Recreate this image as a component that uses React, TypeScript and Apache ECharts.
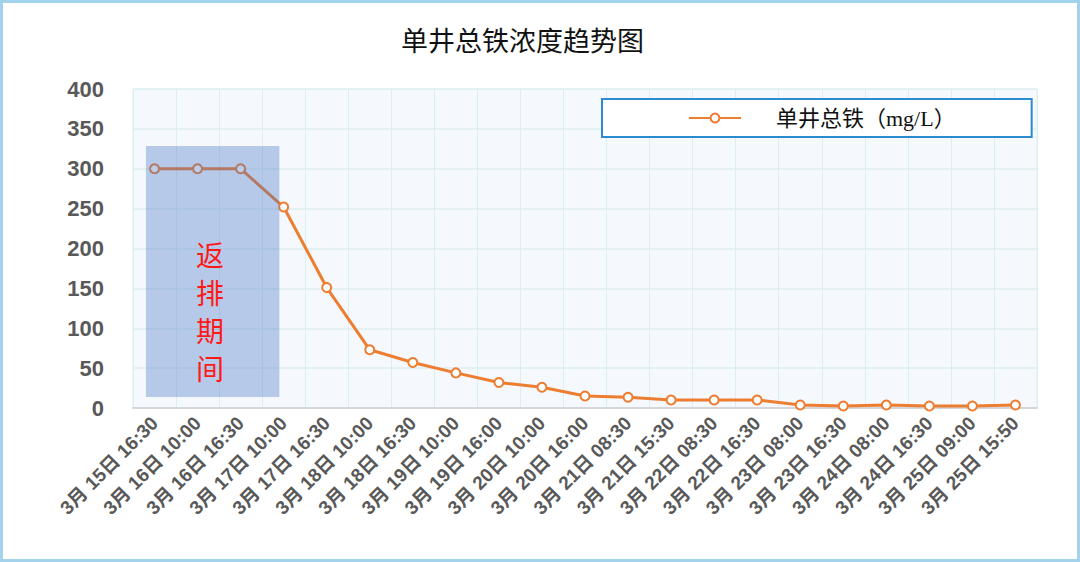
import React, { useEffect, useRef } from "react";
import * as echarts from "echarts";

const chartTitle = "单井总铁浓度趋势图";
const seriesName = "单井总铁（mg/L）";
const categories = [
  "3月 15日 16:30", "3月 16日 10:00", "3月 16日 16:30", "3月 17日 10:00",
  "3月 17日 16:30", "3月 18日 10:00", "3月 18日 16:30", "3月 19日 10:00",
  "3月 19日 16:00", "3月 20日 10:00", "3月 20日 16:00", "3月 21日 08:30",
  "3月 21日 15:30", "3月 22日 08:30", "3月 22日 16:30", "3月 23日 08:00",
  "3月 23日 16:30", "3月 24日 08:00", "3月 24日 16:30", "3月 25日 09:00",
  "3月 25日 15:50",
];
const values = [300, 300, 300, 252, 151, 73, 57, 44, 32, 26, 15, 13.5, 10, 10, 10, 3.8, 2.5, 3.8, 2.5, 2.5, 3.8];
const yMin = 0;
const yMax = 400;
const yStep = 50;
// annotation band (category-index units on x, data units on y)
const bandX = [-0.2, 2.9];
const bandY = [13.8, 328.5];
const bandLabel = "返\n排\n期\n间";
const bandLabelAt = [1.29, 122];

export default function App() {
  const ref = useRef<HTMLDivElement>(null);
  useEffect(() => {
    if (!ref.current) return;
    const chart = echarts.init(ref.current, undefined, { renderer: "svg" });
    const orange = "#ED7D31";
    chart.setOption({
      animation: false,
      backgroundColor: "#ffffff",
      title: {
        text: chartTitle,
        left: 396,
        top: 21,
        textStyle: {
          fontSize: 27,
          fontWeight: "normal",
          color: "#111",
          fontFamily: '"Noto Sans CJK SC", sans-serif',
        },
      },
      legend: {
        data: [{ name: seriesName }],
        left: 602,
        top: 99,
        padding: [8, 76, 8, 86],
        backgroundColor: "#ffffff",
        borderColor: "#2a8bd0",
        borderWidth: 2,
        borderRadius: 0,
        itemWidth: 52,
        itemHeight: 11,
        textStyle: {
          fontSize: 22,
          color: "#111",
          padding: [0, 0, 0, 30],
          fontFamily: '"Liberation Serif", "Noto Sans CJK SC", serif',
        },
      },
      grid: {
        left: 133,
        right: 43,
        top: 89,
        bottom: 154,
        show: true,
        backgroundColor: "#f5f8fc",
        borderColor: "#e2eef3",
        borderWidth: 1,
      },
      xAxis: [
        {
          type: "category",
          data: categories,
          boundaryGap: true,
          axisLine: { show: true, lineStyle: { color: "#d4d6d9", width: 2 } },
          axisTick: { show: false },
          splitLine: { show: true, lineStyle: { color: "#dcefef", width: 1 } },
          axisLabel: {
            rotate: 45,
            interval: 0,
            margin: 12,
            fontSize: 19,
            fontWeight: "bold",
            color: "#595959",
            fontFamily: '"Liberation Sans", "Noto Sans CJK SC", sans-serif',
          },
        },
        {
          type: "value",
          min: -0.5,
          max: categories.length - 0.5,
          show: false,
        },
      ],
      yAxis: {
        type: "value",
        min: yMin,
        max: yMax,
        interval: yStep,
        axisLine: { show: false },
        axisTick: { show: false },
        splitLine: { show: true, lineStyle: { color: "#dcefef", width: 1.5 } },
        axisLabel: {
          margin: 29,
          fontSize: 22,
          fontWeight: "bold",
          color: "#595959",
          fontFamily: '"Liberation Sans", sans-serif',
        },
      },
      series: [
        {
          name: seriesName,
          type: "line",
          data: values,
          z: 2,
          color: orange,
          symbol: "emptyCircle",
          symbolSize: 9,
          lineStyle: { color: orange, width: 3 },
          itemStyle: { color: orange, borderWidth: 1.5 },
        },
        {
          type: "custom",
          xAxisIndex: 1,
          yAxisIndex: 0,
          z: 5,
          silent: true,
          encode: { x: [0, 2, 4], y: [1, 3, 5] },
          data: [[bandX[0], bandY[1], bandX[1], bandY[0], bandLabelAt[0], bandLabelAt[1]]],
          renderItem: (_p: any, api: any) => {
            const p1 = api.coord([api.value(0), api.value(1)]);
            const p2 = api.coord([api.value(2), api.value(3)]);
            const t = api.coord([api.value(4), api.value(5)]);
            return {
              type: "group",
              children: [
                {
                  type: "rect",
                  shape: { x: p1[0], y: p1[1], width: p2[0] - p1[0], height: p2[1] - p1[1] },
                  style: { fill: "rgba(68,114,196,0.35)" },
                },
                {
                  type: "text",
                  x: t[0],
                  y: t[1],
                  style: {
                    text: bandLabel,
                    fill: "#ff1a1a",
                    fontSize: 28,
                    lineHeight: 38,
                    align: "center",
                    verticalAlign: "middle",
                    fontFamily: '"Noto Sans CJK SC", sans-serif',
                  },
                },
              ],
            };
          },
        },
      ],
    });
    return () => chart.dispose();
  }, []);
  return (
    <div style={{ position: "absolute", left: 0, top: 0, width: 1080, height: 562 }}>
      <div ref={ref} style={{ position: "absolute", left: 0, top: 0, width: 1080, height: 562 }} />
      <div
        style={{
          position: "absolute",
          left: 0,
          top: 0,
          width: 1080,
          height: 562,
          boxSizing: "border-box",
          border: "3px solid #a3d3ec",
          pointerEvents: "none",
        }}
      />
    </div>
  );
}
